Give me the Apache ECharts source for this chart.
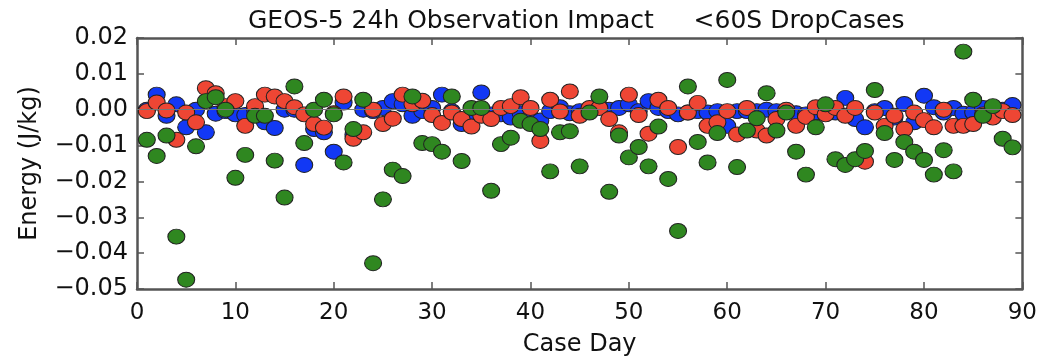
<!DOCTYPE html>
<html>
<head>
<meta charset="utf-8">
<script src="https://cdn.jsdelivr.net/npm/echarts@6/dist/echarts.min.js"></script>
<style>
  html, body { margin: 0; padding: 0; background: #fff; }
  #chart { width: 1040px; height: 362px; }
</style>
</head>
<body>
<div id="chart"></div>
<script>
// GEOS-5 24h observation impact, <60S drop cases
const caseDays = [1, 2, 3, 4, 5, 6, 7, 8, 9, 10, 11, 12, 13, 14, 15, 16, 17, 18, 19, 20,
  21, 22, 23, 24, 25, 26, 27, 28, 29, 30, 31, 32, 33, 34, 35, 36, 37, 38, 39, 40,
  41, 42, 43, 44, 45, 46, 47, 48, 49, 50, 51, 52, 53, 54, 55, 56, 57, 58, 59, 60,
  61, 62, 63, 64, 65, 66, 67, 68, 69, 70, 71, 72, 73, 74, 75, 76, 77, 78, 79, 80,
  81, 82, 83, 84, 85, 86, 87, 88, 89];

const blueVals = [0, 0.0042, -0.0017, 0.0015, -0.0049, 0, -0.0063, -0.0011, -0.0004, -0.0013,
  -0.0015, 0, -0.0035, -0.0051, 0, 0, -0.0154, -0.0054, -0.0063, -0.0117,
  0.002, -0.007, 0, -0.0004, 0.0005, 0.0024, 0.0015, -0.0017, -0.0004, 0.0005,
  0.0042, -0.0004, -0.004, -0.0017, 0.0048, -0.0013, -0.0013, -0.0022, -0.001, -0.002,
  -0.003, -0.0004, 0.0007, -0.001, -0.0004, -0.0004, 0.001, 0, 0.0005, 0.0015,
  -0.0004, 0.0024, 0.0005, -0.0004, -0.0013, -0.0008, -0.0004, -0.0008, -0.0004, -0.0045,
  -0.0004, -0.0004, -0.0004, 0, -0.0004, -0.0004, -0.001, -0.0013, -0.0008, 0,
  -0.0008, 0.0033, -0.0026, -0.0049, -0.0004, 0.0005, -0.0022, 0.0016, -0.0035, 0.0039,
  0.0007, -0.0008, 0.0005, -0.0011, -0.0008, 0.0005, 0.0002, 0, 0.0013];

const redVals = [-0.0004, 0.002, -0.0002, -0.0084, -0.0008, -0.0035, 0.006, 0.0046, 0.001, 0.0024,
  -0.0045, 0.001, 0.0042, 0.0037, 0.0024, 0.0007, -0.0013, -0.004, -0.005, -0.001,
  0.0037, -0.0081, -0.0063, 0, -0.004, -0.0025, 0.0042, 0.0015, 0.0025, -0.0015,
  -0.0037, -0.0008, -0.0026, -0.0047, -0.0017, -0.0026, 0.0005, 0.001, 0.0035, 0.0005,
  -0.0087, 0.0028, -0.0005, 0.0051, -0.0017, 0.0005, 0.0005, -0.0026, -0.0063, 0.0042,
  -0.0015, -0.0067, 0.0028, 0.0005, -0.0104, -0.0008, 0.0019, -0.0045, -0.0035, -0.0004,
  -0.0069, 0.0005, -0.0058, -0.0072, -0.0026, 0, -0.0045, -0.002, 0.0007, -0.0013,
  0.0005, -0.0017, 0.0005, -0.0145, -0.0008, -0.0045, -0.0017, -0.0054, -0.0008, -0.0029,
  -0.0049, 0, -0.0045, -0.0045, -0.004, -0.0013, -0.0022, -0.0004, -0.0015];

const greenVals = [-0.0084, -0.0129, -0.0072, -0.0354, -0.0474, -0.0102, 0.0024, 0.0035, 0, -0.019,
  -0.0126, -0.0017, -0.0017, -0.0142, -0.0245, 0.0065, -0.0093, 0, 0.0028, -0.0013,
  -0.0147, -0.0054, 0.0028, -0.0428, -0.025, -0.0167, -0.0185, 0.0037, -0.0093, -0.0096,
  -0.0117, 0.0037, -0.0143, 0.0005, 0.0005, -0.0226, -0.0096, -0.0078, -0.0031, -0.004,
  -0.0054, -0.0172, -0.0063, -0.006, -0.0158, -0.0008, 0.0037, -0.0229, -0.0072, -0.0133,
  -0.0104, -0.0158, -0.0047, -0.0193, -0.0338, 0.0065, -0.009, -0.0147, -0.0065, 0.0083,
  -0.016, -0.0058, -0.0024, 0.0046, -0.0058, -0.0008, -0.0117, -0.0181, -0.0049, 0.0015,
  -0.0138, -0.0154, -0.0138, -0.0115, 0.0055, -0.0065, -0.014, -0.009, -0.0117, -0.014,
  -0.0181, -0.0113, -0.0172, 0.0162, 0.0028, -0.0017, 0.001, -0.0081, -0.0105];

const xTicks = [0, 10, 20, 30, 40, 50, 60, 70, 80, 90];
const yTicks = [-0.05, -0.04, -0.03, -0.02, -0.01, 0, 0.01, 0.02];

(function() {
  const font = "DejaVu Sans";
  const frame = "#555555";

  const pairs = (vals) => vals.map((v, i) => [caseDays[i], v]);

  const dots = (name, vals, color) => ({
    name: name,
    type: "scatter",
    data: pairs(vals),
    symbol: "circle",
    symbolSize: [17, 15],
    itemStyle: {
      color: color,
      borderColor: "#222222",
      borderWidth: 1,
      opacity: 1
    },
    z: 3
  });

  const xBase = {
    type: "value",
    min: xTicks[0],
    max: xTicks[xTicks.length - 1],
    interval: 10,
    axisLine: { show: true, onZero: false, lineStyle: { color: frame, width: 2.5 } },
    axisTick: { show: true, inside: true, length: 7, lineStyle: { color: frame, width: 1.5 } },
    splitLine: { show: false }
  };

  const yBase = {
    type: "value",
    min: yTicks[0],
    max: yTicks[yTicks.length - 1],
    interval: 0.01,
    axisLine: { show: true, onZero: false, lineStyle: { color: frame, width: 2.5 } },
    axisTick: { show: true, inside: true, length: 7, lineStyle: { color: frame, width: 1.5 } },
    splitLine: { show: false }
  };

  const option = {
    animation: false,
    backgroundColor: "#ffffff",
    title: {
      text: "GEOS-5 24h Observation Impact     <60S DropCases",
      left: 243,
      top: 4,
      textStyle: { fontFamily: font, fontSize: 25, fontWeight: "normal", color: "#111111" }
    },
    grid: { left: 137, right: 17, top: 38, bottom: 66 },
    xAxis: [
      Object.assign({}, xBase, {
        position: "bottom",
        name: "Case Day",
        nameLocation: "middle",
        nameGap: 44,
        nameTextStyle: { fontFamily: font, fontSize: 24, color: "#111111" },
        axisLabel: { fontFamily: font, fontSize: 23, color: "#111111", margin: 13 }
      }),
      Object.assign({}, xBase, { position: "top", axisLabel: { show: false } })
    ],
    yAxis: [
      Object.assign({}, yBase, {
        position: "left",
        name: "Energy (J/kg)",
        nameLocation: "middle",
        nameGap: 95,
        nameTextStyle: { fontFamily: font, fontSize: 24, color: "#111111" },
        axisLabel: {
          fontFamily: font,
          fontSize: 24,
          color: "#111111",
          margin: 9,
          formatter: (v) => {
            const s = (Math.round(v * 100) / 100).toFixed(2);
            return s.replace("-", "\u2212");
          }
        }
      }),
      Object.assign({}, yBase, { position: "right", axisLabel: { show: false } })
    ],
    series: [
      {
        type: "scatter",
        data: [],
        silent: true,
        z: 1,
        markLine: {
          silent: true,
          symbol: "none",
          label: { show: false },
          lineStyle: { color: "#777777", width: 1, type: "solid" },
          data: [{ yAxis: 0 }]
        }
      },
      dots("blue", blueVals, "#1238f5"),
      dots("red", redVals, "#ee4634"),
      dots("green", greenVals, "#2f8720")
    ]
  };

  const chart = echarts.init(document.getElementById("chart"));
  chart.setOption(option);
  window.addEventListener("resize", () => chart.resize());
})();
</script>
</body>
</html>
